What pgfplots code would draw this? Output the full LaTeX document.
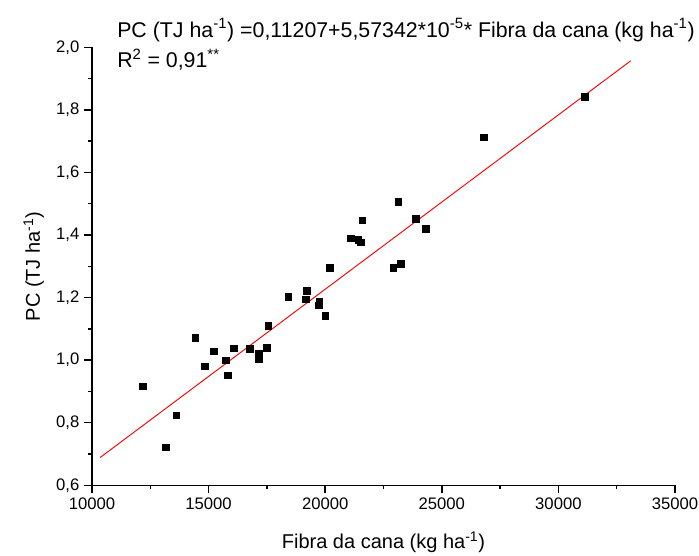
\documentclass[border=0pt]{standalone}
\usepackage{fontspec}
\setmainfont{Liberation Sans}
\usepackage{pgfplots}
\pgfplotsset{compat=1.18}
\begin{document}
\begin{tikzpicture}
\path[use as bounding box] (-69pt,-53pt) rectangle (455.25pt,364pt);
\begin{axis}[
  scale only axis,
  width=437.25pt, height=328.5pt,
  xmin=10000, xmax=35000, ymin=0.6, ymax=2.0,
  axis x line*=bottom, axis y line*=left,
  axis line style={line width=1.1pt},
  tick align=outside,
  major tick length=6pt, minor tick length=3pt,
  every tick/.style={black, line width=1.1pt},
  xtick={10000,15000,...,35000},
  ytick={0.6,0.8,...,2.01},
  minor x tick num=1, minor y tick num=1,
  scaled ticks=false,
  /pgf/number format/assume math mode=true,
  xticklabel style={/pgf/number format/1000 sep={}},
  yticklabel style={/pgf/number format/.cd, fixed, fixed zerofill, precision=1, use comma},
  tick label style={font=\fontsize{12.5}{14}\selectfont},
  xlabel={Fibra da cana (kg ha\textsuperscript{-1})},
  ylabel={PC (TJ ha\textsuperscript{-1})},
  label style={font=\fontsize{15}{18}\selectfont},
  xlabel style={at={(axis description cs:0.5,0)}, anchor=base, yshift=-47pt},
  ylabel style={at={(axis description cs:0,0.5)}, anchor=base, yshift=39pt},
  clip=false,
]
\addplot[red, line width=0.7pt] coordinates {(10350,0.6889) (33100,1.9569)};
\addplot[only marks, mark=square*, mark size=2.5pt, black] coordinates {
(12174,0.917) (13160,0.722) (13615,0.824) (14430,1.072) (14845,0.981)
(15231,1.028) (15733,1.000) (15832,0.952) (16089,1.038) (16775,1.036)
(17161,1.022) (17161,1.005) (17504,1.040) (17560,1.109) (18418,1.203)
(19206,1.222) (19163,1.195) (19747,1.187) (19734,1.176) (20004,1.142)
(20193,1.296) (21093,1.390) (21419,1.384) (21522,1.377) (21591,1.447)
(22920,1.296) (23229,1.308) (23130,1.507) (23893,1.451) (24313,1.420)
(26809,1.712) (31140,1.842)
};
\node[anchor=base west, font=\fontsize{16}{18}\selectfont, inner sep=0pt] at (axis cs:11072,2.033)
  {PC (TJ ha\textsuperscript{-1}) =0,11207+5,57342*10\textsuperscript{-5}* Fibra da cana (kg ha\textsuperscript{-1})};
\node[anchor=base west, font=\fontsize{16}{18}\selectfont, inner sep=0pt] at (axis cs:11072,1.934)
  {R\textsuperscript{2} = 0,91\textsuperscript{**}};
\end{axis}
\end{tikzpicture}
\end{document}
